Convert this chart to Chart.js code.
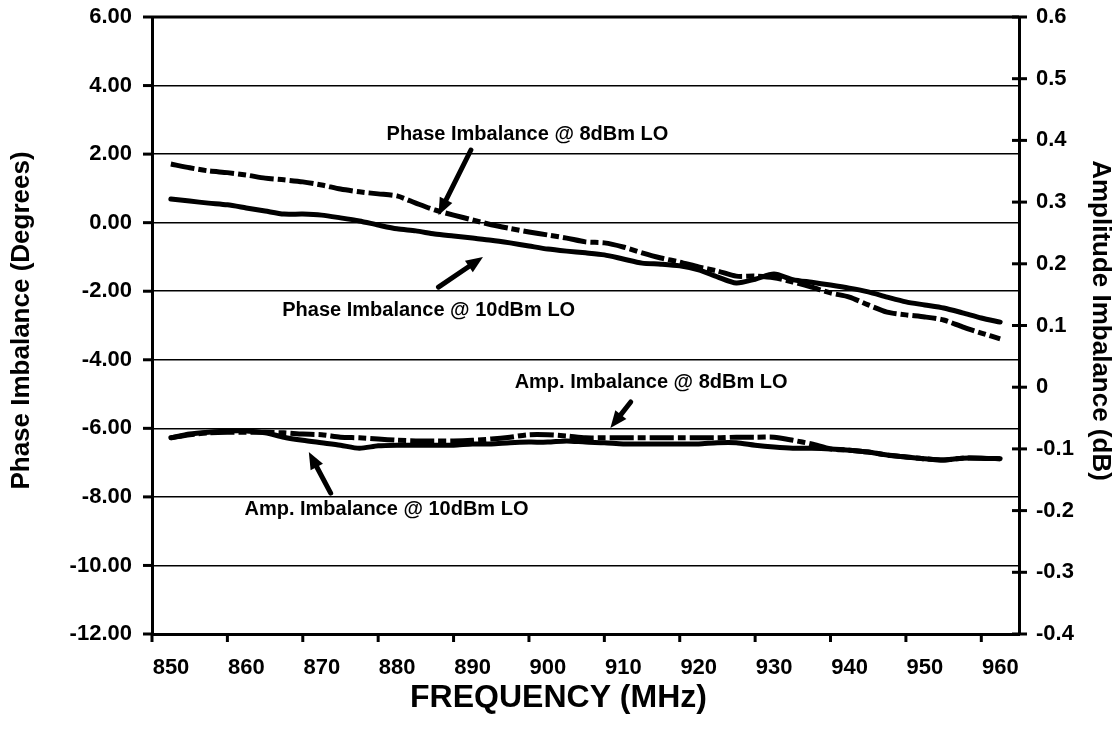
<!DOCTYPE html>
<html>
<head>
<meta charset="utf-8">
<script src="https://cdn.jsdelivr.net/npm/chart.js@4.4.1/dist/chart.umd.min.js"></script>
<style>
html,body{margin:0;padding:0;background:#fff;}
#wrap{width:1117px;height:740px;position:relative;}
</style>
</head>
<body>
<div id="wrap"><canvas id="c"></canvas></div>
<script>
// ---- data ----
const freqMHz = [852.5,855,857.5,860,862.5,865,867.5,870,872.5,875,877.5,880,882.5,885,887.5,890,892.5,895,897.5,900,902.5,905,907.5,910,912.5,915,917.5,920,922.5,925,927.5,930,932.5,935,937.5,940,942.5,945,947.5,950,952.5,955,957.5,960,962.5];
const phase8dBm = [1.71,1.60,1.51,1.46,1.39,1.30,1.25,1.19,1.10,0.98,0.90,0.84,0.78,0.57,0.37,0.22,0.08,-0.06,-0.17,-0.27,-0.36,-0.45,-0.56,-0.59,-0.71,-0.88,-1.03,-1.15,-1.29,-1.41,-1.56,-1.56,-1.61,-1.73,-1.88,-2.05,-2.17,-2.40,-2.61,-2.69,-2.75,-2.84,-3.04,-3.22,-3.39];
const phase10dBm = [0.69,0.63,0.57,0.52,0.43,0.34,0.25,0.25,0.22,0.14,0.05,-0.07,-0.18,-0.24,-0.33,-0.39,-0.45,-0.51,-0.59,-0.68,-0.77,-0.83,-0.88,-0.94,-1.06,-1.18,-1.21,-1.26,-1.38,-1.58,-1.76,-1.65,-1.50,-1.66,-1.74,-1.82,-1.91,-2.02,-2.17,-2.31,-2.40,-2.49,-2.63,-2.78,-2.90];
const amp8dBm = [-0.082,-0.077,-0.074,-0.073,-0.073,-0.073,-0.074,-0.076,-0.077,-0.081,-0.082,-0.084,-0.086,-0.087,-0.087,-0.087,-0.086,-0.084,-0.081,-0.077,-0.077,-0.079,-0.082,-0.082,-0.082,-0.082,-0.082,-0.082,-0.082,-0.082,-0.081,-0.081,-0.081,-0.086,-0.092,-0.100,-0.102,-0.105,-0.110,-0.113,-0.116,-0.118,-0.115,-0.115,-0.116];
const amp10dBm = [-0.082,-0.076,-0.073,-0.071,-0.071,-0.074,-0.081,-0.086,-0.090,-0.094,-0.099,-0.095,-0.094,-0.094,-0.094,-0.094,-0.092,-0.092,-0.090,-0.089,-0.089,-0.087,-0.089,-0.090,-0.092,-0.092,-0.092,-0.092,-0.092,-0.090,-0.090,-0.094,-0.097,-0.099,-0.099,-0.100,-0.102,-0.105,-0.110,-0.113,-0.116,-0.118,-0.115,-0.115,-0.116];
const freqTicks = [850,860,870,880,890,900,910,920,930,940,950,960];
const phaseTicks = [6,4,2,0,-2,-4,-6,-8,-10,-12];
const ampTicks = [0.6,0.5,0.4,0.3,0.2,0.1,0,-0.1,-0.2,-0.3,-0.4];

// annotation callouts, in data units (MHz, degrees)
const callouts = [
  {text:'Phase Imbalance @ 8dBm LO',  at:[899.8, 2.56],  from:[892.3, 2.12],  to:[888.0, 0.22]},
  {text:'Phase Imbalance @ 10dBm LO', at:[886.7, -2.55], from:[888.0, -1.88], to:[893.9, -1.00]},
  {text:'Amp. Imbalance @ 8dBm LO',   at:[916.2, -4.65], from:[913.5, -5.23], to:[910.8, -5.99]},
  {text:'Amp. Imbalance @ 10dBm LO',  at:[881.1, -8.38], from:[873.7, -7.89], to:[870.8, -6.69]}
];
const titles = {x:'FREQUENCY (MHz)', y:'Phase Imbalance (Degrees)', y2:'Amplitude Imbalance (dB)'};

const FONT = "'Liberation Sans', Arial, Helvetica, sans-serif";
const pts = arr => freqMHz.map((f,i)=>({x:f, y:arr[i]}));

function arrow(ctx, x1, y1, x2, y2){
  const ang = Math.atan2(y2-y1, x2-x1);
  const hl = 17, hw = 7;
  const bx = x2 - hl*Math.cos(ang), by = y2 - hl*Math.sin(ang);
  ctx.beginPath();
  ctx.lineWidth = 5; ctx.lineCap = 'round';
  ctx.moveTo(x1,y1); ctx.lineTo(bx,by); ctx.stroke();
  ctx.beginPath();
  ctx.moveTo(x2,y2);
  ctx.lineTo(bx + hw*Math.sin(ang), by - hw*Math.cos(ang));
  ctx.lineTo(bx - hw*Math.sin(ang), by + hw*Math.cos(ang));
  ctx.closePath(); ctx.fill();
}

const decor = {
  id:'decor',
  afterDraw(chart){
    const {ctx, chartArea:a, scales, width} = chart;
    const xs = scales.x, ys = scales.y, y2 = scales.y2;
    ctx.save();
    ctx.strokeStyle = '#000'; ctx.fillStyle = '#000'; ctx.lineCap = 'butt';
    // top frame line
    ctx.lineWidth = 3;
    ctx.beginPath(); ctx.moveTo(a.left, a.top); ctx.lineTo(a.right, a.top); ctx.stroke();
    // left ticks (outside)
    phaseTicks.forEach(v=>{ const y = ys.getPixelForValue(v);
      ctx.beginPath(); ctx.moveTo(a.left-9, y); ctx.lineTo(a.left, y); ctx.stroke(); });
    // right ticks (crossing)
    ampTicks.forEach(v=>{ const y = y2.getPixelForValue(v);
      ctx.beginPath(); ctx.moveTo(a.right-7, y); ctx.lineTo(a.right+8, y); ctx.stroke(); });
    // bottom ticks (outside)
    freqTicks.forEach(v=>{ const x = xs.getPixelForValue(v);
      ctx.beginPath(); ctx.moveTo(x, a.bottom); ctx.lineTo(x, a.bottom+8); ctx.stroke(); });
    // callouts
    ctx.font = 'bold 20px ' + FONT;
    ctx.textAlign = 'center'; ctx.textBaseline = 'middle';
    callouts.forEach(c=>{
      ctx.fillText(c.text, xs.getPixelForValue(c.at[0]), ys.getPixelForValue(c.at[1]));
      arrow(ctx, xs.getPixelForValue(c.from[0]), ys.getPixelForValue(c.from[1]),
                 xs.getPixelForValue(c.to[0]), ys.getPixelForValue(c.to[1]));
    });
    // axis titles
    const midY = (a.top + a.bottom)/2 - 5;
    ctx.font = 'bold 32px ' + FONT;
    ctx.fillText(titles.x, width/2, 698);
    ctx.font = 'bold 26px ' + FONT;
    ctx.save(); ctx.translate(22, midY); ctx.rotate(-Math.PI/2); ctx.fillText(titles.y, 0, 0); ctx.restore();
    ctx.save(); ctx.translate(1100, midY); ctx.rotate(Math.PI/2); ctx.fillText(titles.y2, 0, 0); ctx.restore();
    ctx.restore();
  }
};

const lineBase = {borderColor:'#000', backgroundColor:'#000', borderWidth:5, pointRadius:0, tension:0.25, fill:false, borderJoinStyle:'round'};
const dashPattern = [24,4,8,4];
const tickFont = {family:FONT, size:22, weight:'bold'};

new Chart(document.getElementById('c'), {
  type:'line',
  data:{
    datasets:[
      Object.assign({label:'Phase Imbalance @ 8dBm LO', data:pts(phase8dBm), yAxisID:'y', borderDash:dashPattern, borderCapStyle:'butt'}, lineBase),
      Object.assign({label:'Phase Imbalance @ 10dBm LO', data:pts(phase10dBm), yAxisID:'y', borderCapStyle:'round'}, lineBase),
      Object.assign({label:'Amp. Imbalance @ 8dBm LO', data:pts(amp8dBm), yAxisID:'y2', borderDash:dashPattern, borderCapStyle:'butt'}, lineBase),
      Object.assign({label:'Amp. Imbalance @ 10dBm LO', data:pts(amp10dBm), yAxisID:'y2', borderCapStyle:'round'}, lineBase)
    ]
  },
  options:{
    responsive:true, maintainAspectRatio:false, animation:false,
    layout:{padding:{top:17, left:0, right:0, bottom:0}},
    plugins:{legend:{display:false}, tooltip:{enabled:false}},
    events:[],
    scales:{
      x:{
        type:'linear', min:850, max:965,
        afterBuildTicks: s => { s.ticks = freqTicks.map(v=>({value:v})); },
        afterFit: s => { s.height = 106; s.paddingLeft = 0; s.paddingRight = 0; },
        grid:{display:true, drawOnChartArea:false, drawTicks:false},
        border:{display:true, color:'#000', width:3},
        ticks:{color:'#000', padding:21, labelOffset:19, maxRotation:0, autoSkip:false,
          font:tickFont, callback:v=>String(v)},
        title:{display:false}
      },
      y:{
        position:'left', min:-12, max:6,
        afterBuildTicks: s => { s.ticks = phaseTicks.map(v=>({value:v})); },
        afterFit: s => { s.width = 152; s.paddingTop = 0; s.paddingBottom = 0; },
        grid:{color:'#000', lineWidth:1.5, drawTicks:false},
        border:{display:true, color:'#000', width:3},
        ticks:{color:'#000', padding:20, autoSkip:false,
          font:tickFont, callback:v=>Number(v).toFixed(2)},
        title:{display:false}
      },
      y2:{
        position:'right', min:-0.4, max:0.6,
        afterBuildTicks: s => { s.ticks = ampTicks.map(v=>({value:v})); },
        afterFit: s => { s.width = 98; s.paddingTop = 0; s.paddingBottom = 0; },
        grid:{drawOnChartArea:false, drawTicks:false},
        border:{display:true, color:'#000', width:3},
        ticks:{color:'#000', padding:17, autoSkip:false,
          font:tickFont, callback:v=>String(Math.round(v*10)/10)},
        title:{display:false}
      }
    }
  },
  plugins:[decor]
});
</script>
</body>
</html>
